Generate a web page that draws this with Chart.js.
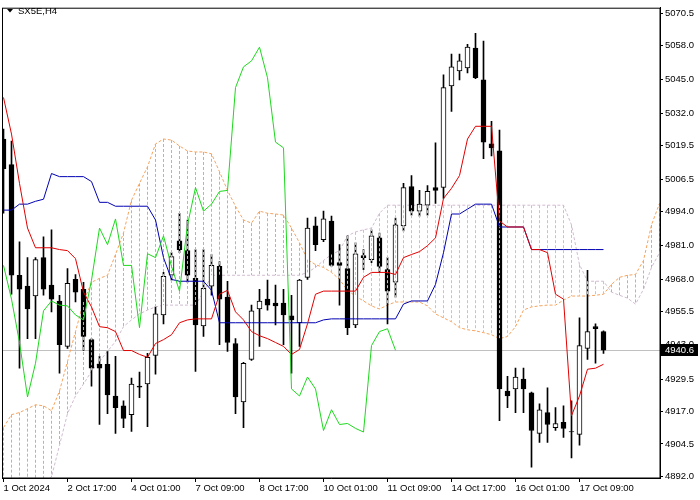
<!DOCTYPE html>
<html>
<head>
<meta charset="utf-8">
<script src="https://cdn.jsdelivr.net/npm/chart.js@4.4.1/dist/chart.umd.min.js"></script>
<style>
  html, body { margin: 0; padding: 0; background: #ffffff; }
  #wrap { width: 700px; height: 500px; }
</style>
</head>
<body>
<div id="wrap"><canvas id="chart" width="700" height="500"></canvas></div>
<script>
// SX5E H4 candles with Ichimoku, one entry per bar
const symbolTitle = 'SX5E,H4';
const tickBars = [0, 8, 16, 24, 32, 40, 48, 56, 64, 72];
const tickLabels = ['1 Oct 2024', '2 Oct 17:00', '4 Oct 01:00', '7 Oct 09:00', '8 Oct 17:00',
  '10 Oct 01:00', '11 Oct 09:00', '14 Oct 17:00', '16 Oct 01:00', '17 Oct 09:00'];
const priceTicks = [5070.5, 5058.0, 5045.0, 5032.0, 5019.5, 5006.5, 4994.0, 4981.0,
  4968.0, 4955.5, 4943.0, 4929.5, 4917.0, 4904.5, 4892.0];
const lastPrice = 4940.6;

const opens = [
  5022.0, 5012.1, 4969.5, 4965.3, 4961.5, 4976.3, 4965.7, 4959.6, 4942.1, 4967.9,
  4964.1, 4944.7, 4935.2, 4935.2, 4923.0, 4919.2, 4915.8, 4926.8, 4927.6, 4938.6,
  4954.2, 4969.5, 4982.8, 4979.0, 4968.3, 4950.0, 4965.3, 4972.9, 4961.1, 4943.2,
  4920.7, 4937.1, 4956.5, 4960.3, 4958.8, 4958.8, 4953.9, 4951.2, 4968.7, 4988.5,
  4983.2, 4990.4, 4974.4, 4972.1, 4950.4, 4977.1, 4975.5, 4983.9, 4971.7, 4966.8,
  4988.5, 5003.7, 4994.2, 4996.5, 5003.3, 5003.3, 5042.5, 5048.2, 5049.4, 5057.0,
  5044.8, 5020.1, 5017.4, 4924.9, 4925.7, 4929.5, 4924.2, 4908.6, 4916.6, 4910.8,
  4912.8, 4909.3, 4908.2, 4941.3, 4949.7, 4947.8];
const highs = [
  5025.8, 5021.2, 4982.4, 4976.3, 4976.3, 4984.3, 4987.0, 4961.8, 4972.1, 4969.8,
  4966.8, 4945.1, 4938.3, 4940.2, 4938.3, 4921.1, 4929.9, 4932.2, 4939.4, 4957.3,
  4970.6, 4978.2, 4993.4, 4990.8, 4979.4, 4979.4, 4977.5, 4974.8, 4967.2, 4945.1,
  4936.0, 4958.0, 4964.1, 4967.6, 4965.7, 4964.1, 4961.8, 4967.9, 4991.5, 4991.9,
  4994.2, 4992.3, 4981.3, 4984.7, 4982.0, 4979.4, 4987.0, 4985.8, 4976.3, 4991.5,
  5004.9, 5007.9, 5002.2, 5004.1, 5020.5, 5046.7, 5054.7, 5054.7, 5058.5, 5062.7,
  5059.7, 5028.8, 5025.4, 4930.6, 4933.7, 4933.7, 4924.5, 4920.0, 4926.1, 4918.5,
  4919.2, 4921.1, 4953.1, 4971.4, 4950.8, 4948.1];
const lows = [
  4993.4, 4962.2, 4933.7, 4945.1, 4945.1, 4961.8, 4955.4, 4931.8, 4941.3, 4959.2,
  4940.5, 4926.8, 4912.0, 4916.2, 4908.6, 4910.8, 4909.3, 4922.3, 4911.2, 4931.4,
  4950.8, 4967.6, 4978.2, 4966.8, 4932.5, 4945.9, 4961.8, 4942.8, 4940.2, 4916.2,
  4910.8, 4936.7, 4942.1, 4956.1, 4950.4, 4942.8, 4931.8, 4942.1, 4967.9, 4979.0,
  4982.4, 4972.9, 4958.0, 4946.6, 4949.3, 4971.7, 4974.4, 4970.6, 4950.8, 4961.1,
  4986.6, 4992.7, 4992.3, 4992.7, 4997.2, 4999.1, 5032.6, 5044.8, 5047.5, 5045.2,
  5014.4, 5015.5, 4913.5, 4918.5, 4916.6, 4916.6, 4895.6, 4905.1, 4905.1, 4909.7,
  4907.0, 4899.1, 4904.0, 4937.1, 4935.6, 4939.4];
const closes = [
  5010.6, 4969.5, 4964.1, 4956.5, 4975.5, 4964.1, 4960.3, 4942.8, 4966.4, 4963.0,
  4945.9, 4933.7, 4933.7, 4923.4, 4918.5, 4914.3, 4927.6, 4926.4, 4937.9, 4954.6,
  4969.1, 4976.7, 4979.4, 4969.5, 4950.4, 4964.5, 4973.3, 4960.3, 4943.6, 4922.6,
  4935.6, 4955.8, 4959.6, 4958.0, 4957.7, 4954.2, 4952.3, 4967.6, 4987.7, 4981.3,
  4991.2, 4973.3, 4973.3, 4949.3, 4977.8, 4976.3, 4984.7, 4972.9, 4963.4, 4988.9,
  5003.3, 4994.2, 4996.9, 5001.8, 5002.2, 5041.8, 5049.8, 5052.1, 5057.4, 5045.6,
  5020.8, 5018.6, 4925.7, 4923.0, 4930.3, 4925.7, 4909.7, 4917.7, 4912.0, 4912.4,
  4910.5, 4909.1, 4942.4, 4947.8, 4948.9, 4940.6];

// Ichimoku lines
const tenkan = [
  5038.0, 5023.9, 5004.9, 4987.7, 4980.1, 4980.1, 4980.1, 4979.4, 4979.0, 4975.9,
  4963.0, 4957.3, 4949.7, 4949.3, 4947.8, 4940.5, 4940.5, 4939.0, 4937.9, 4943.2,
  4944.7, 4946.6, 4951.2, 4952.3, 4952.7, 4952.7, 4952.7, 4962.2, 4963.7, 4955.4,
  4952.3, 4947.8, 4946.2, 4945.1, 4943.6, 4942.1, 4939.0, 4940.9, 4950.8, 4962.2,
  4963.4, 4963.4, 4963.4, 4963.4, 4963.4, 4968.7, 4970.6, 4970.6, 4970.6, 4969.8,
  4976.3, 4977.5, 4978.6, 4980.9, 4983.9, 4999.1, 5003.0, 5007.9, 5022.0, 5026.9,
  5026.9, 5026.9, 4990.4, 4988.1, 4988.1, 4988.1, 4979.4, 4979.4, 4978.2, 4962.2,
  4960.3, 4915.4, 4923.0, 4933.3, 4933.7, 4935.2];
const kijun = [
  4994.6, 4994.6, 4996.9, 4996.9, 4998.0, 4998.8, 5008.7, 5007.5, 5007.5, 5007.5,
  5007.5, 5005.6, 4997.6, 4997.6, 4996.1, 4996.1, 4996.1, 4996.1, 4996.1, 4990.8,
  4976.3, 4967.9, 4967.2, 4967.2, 4967.2, 4967.2, 4963.7, 4951.2, 4951.2, 4951.2,
  4951.2, 4951.2, 4951.2, 4951.2, 4951.2, 4951.2, 4951.2, 4951.2, 4951.2, 4951.2,
  4952.3, 4952.7, 4952.7, 4952.7, 4952.7, 4952.7, 4952.7, 4952.7, 4952.7, 4952.7,
  4958.4, 4959.6, 4959.6, 4959.6, 4966.0, 4978.2, 4993.1, 4993.1, 4995.0, 4996.9,
  4996.9, 4996.9, 4988.1, 4988.1, 4988.1, 4988.1, 4979.4, 4979.4, 4979.4, 4979.4,
  4979.4, 4979.4, 4979.4, 4979.4, 4979.4, 4979.4];
const chikou = [
  4973.3, 4960.3, 4943.6, 4922.6, 4935.6, 4955.8, 4959.6, 4958.0, 4957.7, 4954.2,
  4952.3, 4967.6, 4987.7, 4981.3, 4991.2, 4973.3, 4973.3, 4949.3, 4977.8, 4976.3,
  4984.7, 4972.9, 4963.4, 4988.9, 5003.3, 4994.2, 4996.9, 5001.8, 5002.2, 5041.8,
  5049.8, 5052.1, 5057.4, 5045.6, 5020.8, 5018.6, 4925.7, 4923.0, 4930.3, 4925.7,
  4909.7, 4917.7, 4912.0, 4912.4, 4910.5, 4909.1, 4942.4, 4947.8, 4948.9, 4940.6];
const spanA = [
  4910.8, 4915.8, 4916.6, 4918.1, 4919.6, 4919.2, 4917.3, 4924.9, 4936.3, 4947.8,
  4959.2, 4966.8, 4968.3, 4969.5, 4977.5, 4985.8, 4998.4, 5004.9, 5011.3, 5020.1,
  5022.0, 5021.6, 5019.3, 5017.4, 5017.0, 5017.0, 5016.3, 5009.4, 5002.2, 4996.1,
  4990.8, 4989.6, 4994.2, 4993.4, 4993.1, 4992.7, 4987.7, 4982.0, 4975.5, 4973.6,
  4972.5, 4970.6, 4967.9, 4963.7, 4961.5, 4959.6, 4957.7, 4956.5, 4958.0, 4959.2,
  4959.2, 4959.2, 4959.2, 4957.7, 4954.6, 4953.1, 4951.6, 4949.3, 4948.5, 4948.1,
  4947.4, 4946.6, 4945.1, 4945.9, 4949.7, 4956.1, 4957.3, 4957.7, 4958.0, 4958.0,
  4959.9, 4961.5, 4961.5, 4961.5, 4961.8, 4962.2, 4966.0, 4968.7, 4969.5, 4969.8,
  4975.2, 4988.9, 4997.2];
const spanB = [
  4879.3, 4881.2, 4883.1, 4885.0, 4886.9, 4888.8, 4891.8, 4904.0, 4916.2, 4923.0,
  4927.6, 4932.5, 4936.3, 4940.2, 4944.0, 4949.7, 4952.3, 4954.6, 4956.1, 4957.3,
  4958.0, 4958.0, 4958.0, 4958.0, 4958.0, 4963.0, 4969.5, 4969.5, 4969.5, 4969.5,
  4969.5, 4969.5, 4969.5, 4969.5, 4969.5, 4969.5, 4969.5, 4969.5, 4970.6, 4972.5,
  4975.2, 4977.5, 4979.0, 4984.7, 4986.2, 4987.0, 4987.7, 4993.4, 4996.5, 4996.5,
  4996.5, 4996.5, 4996.5, 4996.5, 4996.5, 4996.5, 4996.5, 4996.5, 4996.5, 4996.5,
  4996.5, 4996.5, 4996.5, 4996.5, 4996.5, 4996.5, 4996.5, 4996.5, 4996.5, 4996.5,
  4996.5, 4988.9, 4973.6, 4967.2, 4967.2, 4967.2, 4963.0, 4961.8, 4960.7, 4958.4,
  4964.1, 4972.5, 4978.2];

const FONT = { family: 'Liberation Sans', size: 9.5 };
const SANDY = '#f4a460';
const THISTLE = '#d0bcd0';

const pts = (arr) => arr.map((v, i) => ({ x: i, y: v }));

// vertical dotted cloud lines between span A and span B, drawn right after the candle bodies
const cloudHatch = {
  id: 'cloudHatch',
  afterDatasetDraw(chart, args) {
    if (args.index !== 1) return;
    const { ctx, chartArea, scales } = chart;
    ctx.save();
    ctx.beginPath();
    ctx.rect(chartArea.left, chartArea.top, chartArea.width, chartArea.height);
    ctx.clip();
    ctx.lineWidth = 1;
    ctx.setLineDash([3, 2]);
    [true, false].forEach((rising) => {
      ctx.strokeStyle = rising ? SANDY : THISTLE;
      ctx.beginPath();
      for (let i = 0; i < spanA.length; i++) {
        const a = spanA[i];
        const b = spanB[i];
        if ((a > b) !== rising) continue;
        const px = Math.floor(scales.x.getPixelForValue(i)) + 0.5;
        ctx.moveTo(px, scales.y.getPixelForValue(Math.max(a, b)));
        ctx.lineTo(px, scales.y.getPixelForValue(Math.min(a, b)));
      }
      ctx.stroke();
    });
    ctx.restore();
  }
};

// bid line, frame, title and last price box
const terminalLook = {
  id: 'terminalLook',
  beforeDatasetsDraw(chart) {
    const { ctx, chartArea, scales } = chart;
    const py = Math.round(scales.y.getPixelForValue(lastPrice)) + 0.5;
    ctx.save();
    ctx.strokeStyle = '#c0c0c0';
    ctx.lineWidth = 1;
    ctx.beginPath();
    ctx.moveTo(chartArea.left, py);
    ctx.lineTo(chartArea.right, py);
    ctx.stroke();
    ctx.restore();
  },
  afterDraw(chart) {
    const { ctx, chartArea, scales } = chart;
    ctx.save();
    ctx.strokeStyle = '#000';
    ctx.lineWidth = 1;
    ctx.strokeRect(chartArea.left + 0.5, chartArea.top + 0.5, chartArea.width - 0.5, chartArea.height - 0.5);

    // title with the little menu triangle
    ctx.fillStyle = '#000';
    ctx.beginPath();
    ctx.moveTo(7, 9);
    ctx.lineTo(13, 9);
    ctx.lineTo(10, 12.5);
    ctx.closePath();
    ctx.fill();
    ctx.font = FONT.size + 'px ' + FONT.family;
    ctx.textBaseline = 'middle';
    ctx.textAlign = 'left';
    ctx.fillText(symbolTitle, 18, 11);

    // last price tag on the axis
    const py = Math.round(scales.y.getPixelForValue(lastPrice));
    ctx.fillStyle = '#000';
    ctx.fillRect(chartArea.right + 1, py - 6, 37, 12);
    ctx.fillStyle = '#fff';
    ctx.fillText(lastPrice.toFixed(1), chartArea.right + 5, py + 0.5);
    ctx.restore();
  }
};

new Chart(document.getElementById('chart'), {
  type: 'bar',
  data: {
    datasets: [
      {
        label: 'wicks',
        data: lows.map((l, i) => ({ x: i, y: [l, highs[i]] })),
        backgroundColor: '#000',
        borderWidth: 0,
        barThickness: 1,
        grouped: false,
        order: 8,
      },
      {
        label: 'bodies',
        data: opens.map((o, i) => ({ x: i, y: [o, closes[i]] })),
        backgroundColor: opens.map((o, i) => (closes[i] >= o ? '#ffffff' : '#000000')),
        borderColor: '#000',
        borderWidth: 1,
        borderSkipped: false,
        barThickness: 5,
        grouped: false,
        order: 7,
      },
      {
        type: 'line',
        label: 'Senkou A',
        data: pts(spanA),
        borderColor: SANDY,
        borderWidth: 1,
        borderDash: [3, 2],
        pointRadius: 0,
        tension: 0,
        order: 10,
      },
      {
        type: 'line',
        label: 'Senkou B',
        data: pts(spanB),
        borderColor: THISTLE,
        borderWidth: 1,
        borderDash: [3, 2],
        pointRadius: 0,
        tension: 0,
        order: 10,
      },
      {
        type: 'line',
        label: 'Tenkan',
        data: pts(tenkan),
        borderColor: '#e00000',
        borderWidth: 1,
        pointRadius: 0,
        tension: 0,
        order: 3,
      },
      {
        type: 'line',
        label: 'Kijun',
        data: pts(kijun),
        borderColor: '#0000b0',
        borderWidth: 1,
        pointRadius: 0,
        tension: 0,
        order: 3,
      },
      {
        type: 'line',
        label: 'Chikou',
        data: pts(chikou),
        borderColor: '#1ed81e',
        borderWidth: 1,
        pointRadius: 0,
        tension: 0,
        order: 2,
      },
    ],
  },
  options: {
    responsive: false,
    animation: false,
    devicePixelRatio: 1,
    layout: { padding: { left: 2, top: 2, right: 0, bottom: 0 } },
    plugins: {
      legend: { display: false },
      tooltip: { enabled: false },
    },
    scales: {
      x: {
        type: 'linear',
        offset: false,
        min: -0.1875,
        max: 82.0625,
        afterBuildTicks: (scale) => { scale.ticks = tickBars.map((v) => ({ value: v })); },
        afterFit: (scale) => { scale.height = 22; },
        ticks: {
          callback: (v, idx) => tickLabels[idx],
          align: 'start',
          autoSkip: false,
          maxRotation: 0,
          padding: 1,
          color: '#000',
          font: FONT,
        },
        grid: { drawOnChartArea: false, offset: false, tickLength: 4, color: '#000' },
        border: { display: true, color: '#000' },
      },
      y: {
        position: 'right',
        beginAtZero: false,
        min: 4891.39,
        max: 5072.59,
        afterBuildTicks: (scale) => { scale.ticks = priceTicks.map((v) => ({ value: v })); },
        afterFit: (scale) => { scale.width = 40; },
        ticks: {
          callback: (v) => v.toFixed(1),
          padding: 2,
          color: '#000',
          font: FONT,
        },
        grid: { drawOnChartArea: false, tickLength: 3, color: '#000' },
        border: { display: true, color: '#000' },
      },
    },
  },
  plugins: [cloudHatch, terminalLook],
});
</script>
</body>
</html>
